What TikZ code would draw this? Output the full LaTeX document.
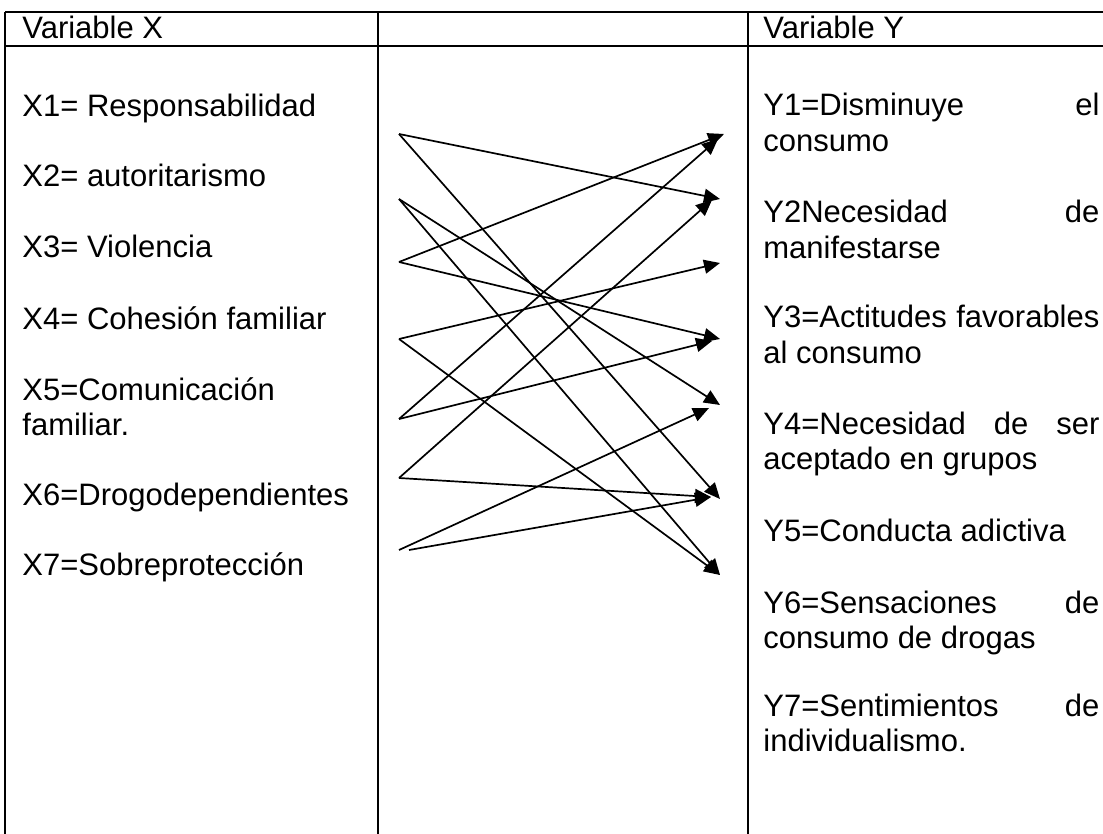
\documentclass[tikz,border=0pt]{standalone}
\usepackage{fontspec}
\setmainfont{Liberation Sans}
\usetikzlibrary{arrows.meta}
\setlength{\parindent}{0pt}

\tikzset{
  txt/.style={anchor=base west, inner sep=0pt, font=\fontsize{15.5pt}{17.75pt}\selectfont},
  ytxt/.style={txt, text width=168pt, align=justify},
  rule/.style={line width=1pt},
  arr/.style={-{Triangle[length=8pt,width=7pt]}, line width=0.85pt}
}

\begin{document}
\begin{tikzpicture}[x=0.5pt, y=-0.5pt]
\useasboundingbox (0,0) rectangle (1103,834);

% Table
\draw[rule] (5,12) -- (1103,12);
\draw[rule] (5,46) -- (1103,46);
\foreach \c in {5,378,748} {
    \draw[rule] (\c,12) -- (\c,834);
}

% Headings
\node[txt] (hx) at (22,39) {Variable X};
\node[txt] (hy) at (763,39) {Variable Y};

% Variable X
\node[txt] (x1) at (22,117) {X1= Responsabilidad};
\node[txt] (x2) at (22,187) {X2= autoritarismo};
\node[txt] (x3) at (22,258) {X3= Violencia};
\node[txt] (x4) at (22,329) {X4= Cohesión familiar};
\node[txt, text width=170pt, align=left] (x5) at (22,400) {X5=Comunicación\\familiar.};
\node[txt] (x6) at (22,505) {X6=Drogodependientes};
\node[txt] (x7) at (22,575) {X7=Sobreprotección};

% Variable Y
\node[ytxt] (y1) at (763,116) {Y1=Disminuye\hfill el\\consumo};
\node[ytxt] (y2) at (763,223) {Y2Necesidad\hfill de\\manifestarse};
\node[ytxt] (y3) at (763,328) {Y3=Actitudes\hfill favorables\\al consumo};
\node[ytxt] (y4) at (763,434) {Y4=Necesidad\hfill de\hfill ser\\aceptado en grupos};
\node[txt] (y5) at (763,541) {Y5=Conducta adictiva};
\node[ytxt] (y6) at (763,613) {Y6=Sensaciones\hfill de\\consumo de drogas};
\node[ytxt] (y7) at (763,716) {Y7=Sentimientos\hfill de\\individualismo.};

% Arrow ends
\coordinate (s1) at (399,134);
\coordinate (s2) at (399,199);
\coordinate (s3) at (399,262);
\coordinate (s4) at (399,339);
\coordinate (s5) at (399,419);
\coordinate (s6) at (399,478);
\coordinate (s7) at (399,550);
\coordinate (s7b) at (409,550);

\coordinate (t1a) at (724,134);
\coordinate (t1b) at (718,139);
\coordinate (t2a) at (720,199);
\coordinate (t2b) at (712,200);
\coordinate (t3) at (720,263);
\coordinate (t4a) at (720,339);
\coordinate (t4b) at (712,341);
\coordinate (t5a) at (720,405);
\coordinate (t5b) at (709,408);
\coordinate (t6a) at (720,499);
\coordinate (t6b) at (711,497);
\coordinate (t7) at (720,575);

% Links
\foreach \a/\b in {s1/t2a, s1/t6a, s2/t5a, s2/t7, s3/t1a, s3/t4a, s4/t3, s4/t7,
                   s5/t1b, s5/t4b, s6/t2b, s6/t6b, s7/t5b, s7b/t6b} {
    \draw[arr] (\a) -- (\b);
}

\end{tikzpicture}
\end{document}
